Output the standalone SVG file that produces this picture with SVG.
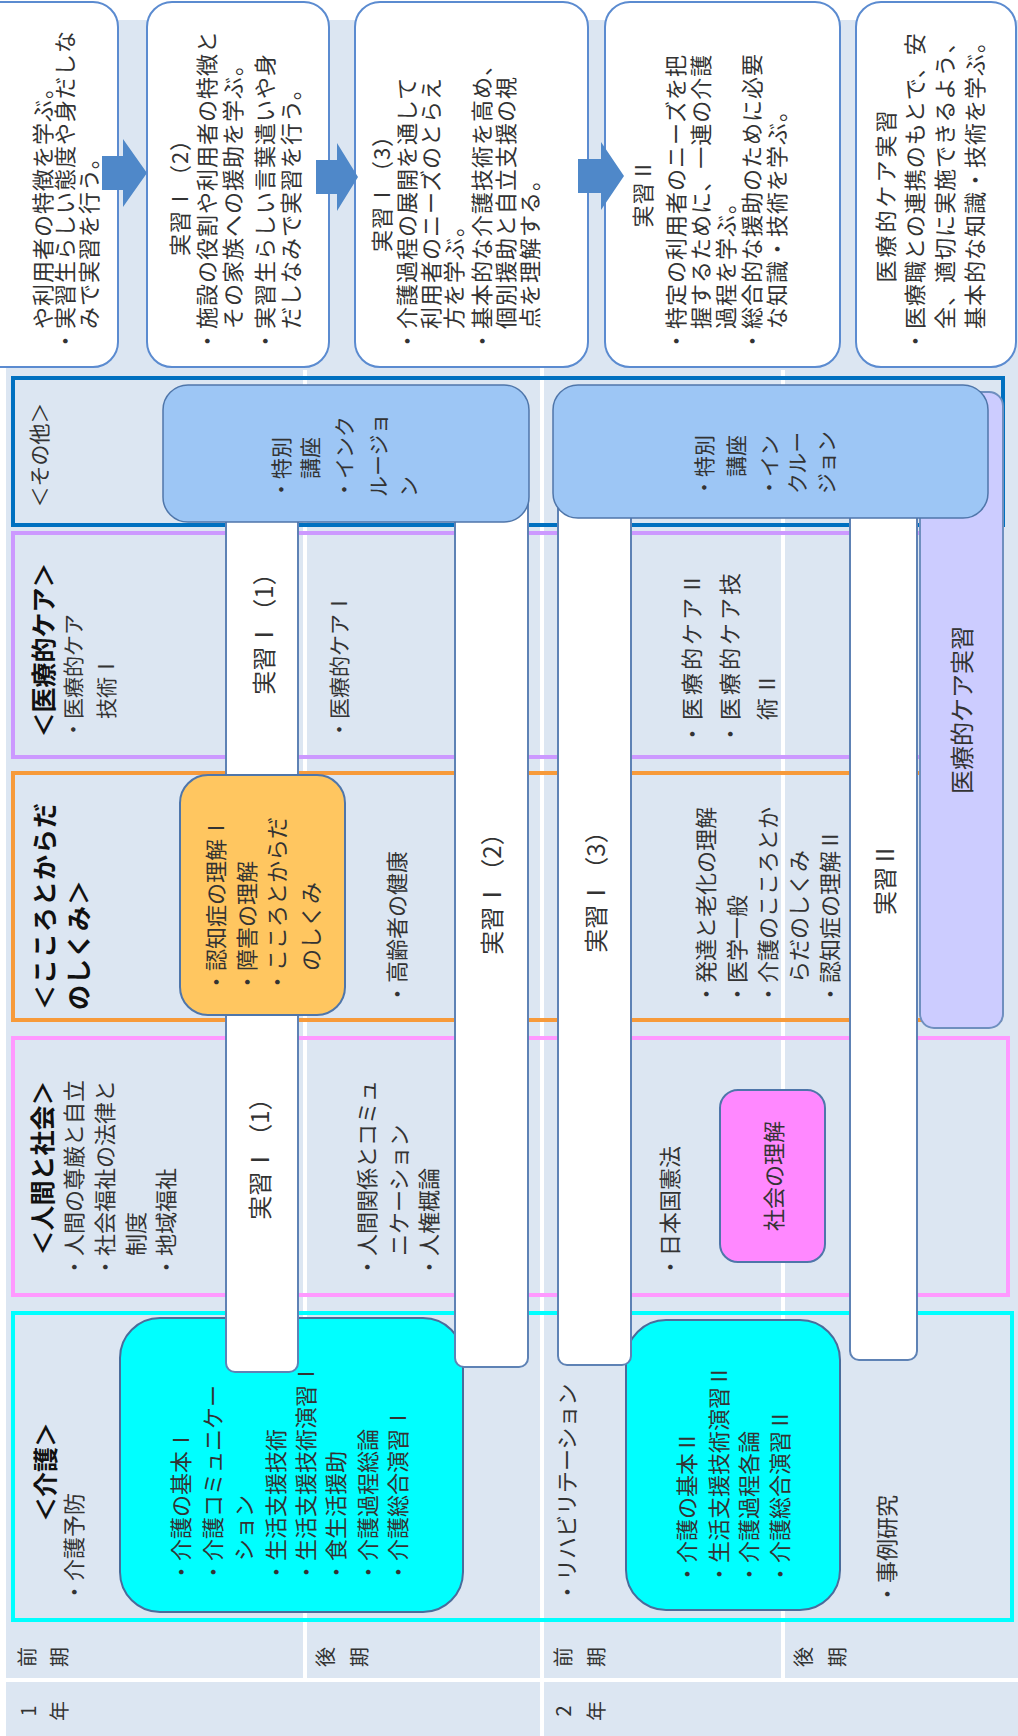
<svg xmlns="http://www.w3.org/2000/svg" width="1018" height="1736" viewBox="0 0 1018 1736">
<style>
.t{font-family:"Noto Sans CJK JP","Noto Sans CJK SC",sans-serif;fill:#333;dominant-baseline:central}
.m{text-anchor:middle}
.b{font-weight:bold;fill:#111}
.s20{font-size:20px}
.s21{font-size:21px}
.s22{font-size:22px}
.s24{font-size:24px}
.s25{font-size:25px}
.ls1{letter-spacing:1px}
.top{fill:#fff;stroke:#5B8BD0;stroke-width:2}
.bar{fill:#fff;stroke:#5E82B5;stroke-width:2}
.grid{stroke:#fff;stroke-width:4}
.arrow{fill:#4F88C9}
</style>
<rect x="6" y="20" width="1012" height="1716" fill="#DCE6F2"/>
<g id="grid">
<line class="grid" x1="305" y1="370" x2="305" y2="1680"/>
<line class="grid" x1="542" y1="20" x2="542" y2="1736"/>
<line class="grid" x1="783" y1="370" x2="783" y2="1680"/>
<line class="grid" x1="6" y1="1680" x2="1018" y2="1680"/>
</g>

<!-- top goal boxes -->
<g id="goal1">
<rect class="top" x="-30" y="2" width="148" height="365" rx="25"/>
<text class="t s22 ls1" transform="translate(41,329) rotate(-90)">や利用者の特徴を学ぶ。</text>
<text class="t s22 ls1" transform="translate(63,352) rotate(-90)">・実習生らしい態度や身だしな</text>
<text class="t s22 ls1" transform="translate(87,329) rotate(-90)">みで実習を行う。</text>
</g>
<g id="goal2">
<rect class="top" x="147" y="2" width="182" height="365" rx="25"/>
<text class="t s22 ls1 m" transform="translate(178,192) rotate(-90)">実習Ⅰ（2）</text>
<text class="t s22 ls1" transform="translate(205,352) rotate(-90)">・施設の役割や利用者の特徴と</text>
<text class="t s22 ls1" transform="translate(231,329) rotate(-90)">その家族への援助を学ぶ。</text>
<text class="t s22 ls1" transform="translate(263,352) rotate(-90)">・実習生らしい言葉遣いや身</text>
<text class="t s22 ls1" transform="translate(289,329) rotate(-90)">だしなみで実習を行う。</text>
</g>
<g id="goal3">
<rect class="top" x="355" y="2" width="233" height="365" rx="25"/>
<text class="t s22 ls1 m" transform="translate(380,188) rotate(-90)">実習Ⅰ（3）</text>
<text class="t s22 ls1" transform="translate(405,352) rotate(-90)">・介護過程の展開を通して</text>
<text class="t s22 ls1" transform="translate(429,329) rotate(-90)">利用者のニーズのとらえ</text>
<text class="t s22 ls1" transform="translate(452,329) rotate(-90)">方を学ぶ。</text>
<text class="t s22 ls1" transform="translate(480,352) rotate(-90)">・基本的な介護技術を高め、</text>
<text class="t s22 ls1" transform="translate(504,329) rotate(-90)">個別援助と自立支援の視</text>
<text class="t s22 ls1" transform="translate(528,329) rotate(-90)">点を理解する。</text>
</g>
<g id="goal4">
<rect class="top" x="605" y="2" width="235" height="365" rx="25"/>
<text class="t s22 ls1 m" transform="translate(641,193) rotate(-90)">実習Ⅱ</text>
<text class="t s22 ls1" transform="translate(674,352) rotate(-90)">・特定の利用者のニーズを把</text>
<text class="t s22 ls1" transform="translate(699,329) rotate(-90)">握するために、一連の介護</text>
<text class="t s22 ls1" transform="translate(724,329) rotate(-90)">過程を学ぶ。</text>
<text class="t s22 ls1" transform="translate(750,352) rotate(-90)">・総合的な援助のために必要</text>
<text class="t s22 ls1" transform="translate(775,329) rotate(-90)">な知識・技術を学ぶ。</text>
</g>
<g id="goal5">
<rect class="top" x="856" y="2" width="160" height="365" rx="25"/>
<text class="t s22 m" style="letter-spacing:3px" transform="translate(884,195) rotate(-90)">医療的ケア実習</text>
<text class="t s22 ls1" transform="translate(913,352) rotate(-90)">・医療職との連携のもとで、安</text>
<text class="t s22 ls1" transform="translate(943,329) rotate(-90)">全、適切に実施できるよう、</text>
<text class="t s22 ls1" transform="translate(973,329) rotate(-90)">基本的な知識・技術を学ぶ。</text>
</g>

<g id="connectors">
<polygon class="arrow" points="102,156 123,156 123,139 147,173 123,207 123,190 102,190"/>
<polygon class="arrow" points="316,160 337,160 337,143 358,177 337,211 337,194 316,194"/>
<polygon class="arrow" points="578,159 601,159 601,142 624,176 601,210 601,193 578,193"/>
</g>

<!-- category bands -->
<g id="cat-other">
<rect x="13" y="378" width="990" height="147" fill="none" stroke="#0070C0" stroke-width="4"/>
<text class="t s21 m" transform="translate(38,455) rotate(-90)">＜その他＞</text>
</g>
<g id="cat-medical">
<rect x="13" y="533" width="987" height="224" fill="none" stroke="#CC99FF" stroke-width="4"/>
<text class="t b s25 m" transform="translate(42,650) rotate(-90)">＜医療的ケア＞</text>
<text class="t s21" transform="translate(72,740) rotate(-90)">・医療的ケア</text>
<text class="t s21" transform="translate(105,719) rotate(-90)">技術Ⅰ</text>
<text class="t s21" transform="translate(338,740) rotate(-90)">・医療的ケアⅠ</text>
<text class="t s22" style="letter-spacing:3px" transform="translate(690,745) rotate(-90)">・医療的ケアⅡ</text>
<text class="t s22" style="letter-spacing:3px" transform="translate(728,745) rotate(-90)">・医療的ケア技</text>
<text class="t s22" style="letter-spacing:3px" transform="translate(765,720) rotate(-90)">術Ⅱ</text>
</g>
<g id="cat-mind">
<rect x="13" y="773" width="987" height="247" fill="none" stroke="#F79A3A" stroke-width="4"/>
<text class="t b s25" style="letter-spacing:1px" transform="translate(43,1010) rotate(-90)">＜こころとからだ</text>
<text class="t b s25" style="letter-spacing:1px" transform="translate(77,1010) rotate(-90)">のしくみ＞</text>
<text class="t s22" transform="translate(395,1005) rotate(-90)">・高齢者の健康</text>
<text class="t s22" transform="translate(704,1005) rotate(-90)">・発達と老化の理解</text>
<text class="t s22" transform="translate(735,1005) rotate(-90)">・医学一般</text>
<text class="t s22" transform="translate(766,1005) rotate(-90)">・介護のこころとか</text>
<text class="t s22" transform="translate(797,983) rotate(-90)">らだのしくみ</text>
<text class="t s22" transform="translate(828,1005) rotate(-90)">・認知症の理解Ⅱ</text>
</g>
<g id="cat-society">
<rect x="13" y="1038" width="995" height="257" fill="none" stroke="#FF99FF" stroke-width="4"/>
<text class="t b s25 m" transform="translate(41,1168) rotate(-90)">＜人間と社会＞</text>
<text class="t s22" transform="translate(72,1278) rotate(-90)">・人間の尊厳と自立</text>
<text class="t s22" transform="translate(103,1278) rotate(-90)">・社会福祉の法律と</text>
<text class="t s22" transform="translate(134,1256) rotate(-90)">制度</text>
<text class="t s22" transform="translate(164,1278) rotate(-90)">・地域福祉</text>
<text class="t s22" transform="translate(365,1278) rotate(-90)">・人間関係とコミュ</text>
<text class="t s22" transform="translate(397,1256) rotate(-90)">ニケーション</text>
<text class="t s22" transform="translate(427,1278) rotate(-90)">・人権概論</text>
<text class="t s22" transform="translate(668,1278) rotate(-90)">・日本国憲法</text>
</g>
<g id="cat-care">
<rect x="13" y="1313" width="999" height="307" fill="none" stroke="#00FFFF" stroke-width="4"/>
<text class="t b s25 m" transform="translate(44,1472) rotate(-90)">＜介護＞</text>
<text class="t s22" transform="translate(72,1603) rotate(-90)">・介護予防</text>
<text class="t s22" transform="translate(565,1603) rotate(-90)">・リハビリテーション</text>
<text class="t s22" transform="translate(885,1605) rotate(-90)">・事例研究</text>
</g>

<!-- content boxes below bars -->
<g id="care1">
<rect x="120" y="1318" width="343" height="294" rx="40" fill="#00FFFF" stroke="#4A6C9B" stroke-width="2"/>
<text class="t s22" transform="translate(179,1583) rotate(-90)">・介護の基本Ⅰ</text>
<text class="t s22" transform="translate(211,1583) rotate(-90)">・介護コミュニケー</text>
<text class="t s22" transform="translate(242,1561) rotate(-90)">ション</text>
<text class="t s22" transform="translate(274,1583) rotate(-90)">・生活支援技術</text>
<text class="t s22" transform="translate(304,1583) rotate(-90)">・生活支援技術演習Ⅰ</text>
<text class="t s22" transform="translate(334,1583) rotate(-90)">・食生活援助</text>
<text class="t s22" transform="translate(366,1583) rotate(-90)">・介護過程総論</text>
<text class="t s22" transform="translate(396,1583) rotate(-90)">・介護総合演習Ⅰ</text>
</g>
<g id="care2">
<rect x="626" y="1320" width="214" height="290" rx="40" fill="#00FFFF" stroke="#4A6C9B" stroke-width="2"/>
<text class="t s22" transform="translate(685,1585) rotate(-90)">・介護の基本Ⅱ</text>
<text class="t s22" transform="translate(717,1585) rotate(-90)">・生活支援技術演習Ⅱ</text>
<text class="t s22" transform="translate(747,1585) rotate(-90)">・介護過程各論</text>
<text class="t s22" transform="translate(778,1585) rotate(-90)">・介護総合演習Ⅱ</text>
</g>
<g id="society-box">
<rect x="720" y="1090" width="105" height="172" rx="18" fill="#FF88FF" stroke="#4F76AA" stroke-width="2"/>
<text class="t s22 m" transform="translate(772,1176) rotate(-90)">社会の理解</text>
</g>
<g id="medical-practice">
<rect x="920" y="392" width="83" height="636" rx="14" fill="#CCCCFF" stroke="#6F8FBF" stroke-width="2"/>
<text class="t s24 m" transform="translate(960,710) rotate(-90)">医療的ケア実習</text>
</g>

<!-- practicum bars -->
<g id="bar1">
<rect class="bar" x="226" y="490" width="72" height="882" rx="9"/>
<text class="t s24 m" transform="translate(262,628) rotate(-90)">実習Ⅰ（1）</text>
<text class="t s24 m" transform="translate(258,1153) rotate(-90)">実習Ⅰ（1）</text>
</g>
<g id="bar2">
<rect class="bar" x="455" y="490" width="73" height="877" rx="9"/>
<text class="t s24 m" transform="translate(490,888) rotate(-90)">実習Ⅰ（2）</text>
</g>
<g id="bar3">
<rect class="bar" x="558" y="490" width="73" height="875" rx="9"/>
<text class="t s24 m" transform="translate(594,886) rotate(-90)">実習Ⅰ（3）</text>
</g>
<g id="bar4">
<rect class="bar" x="850" y="490" width="67" height="870" rx="9"/>
<text class="t s24 m" transform="translate(883,879) rotate(-90)">実習Ⅱ</text>
</g>

<!-- boxes above bars -->
<g id="mind1">
<rect x="180" y="775" width="165" height="240" rx="28" fill="#FFC660" stroke="#4F76AA" stroke-width="2"/>
<text class="t s22" transform="translate(214,993) rotate(-90)">・認知症の理解Ⅰ</text>
<text class="t s22" transform="translate(245,993) rotate(-90)">・障害の理解</text>
<text class="t s22" transform="translate(275,993) rotate(-90)">・こころとからだ</text>
<text class="t s22" transform="translate(309,971) rotate(-90)">のしくみ</text>
</g>
<g id="other1">
<rect x="163" y="385" width="366" height="137" rx="25" fill="#9DC6F5" stroke="#4F76AA" stroke-width="1.5"/>
<text class="t s21" transform="translate(280,500) rotate(-90)">・特別</text>
<text class="t s21" transform="translate(309,479) rotate(-90)">講座</text>
<text class="t s21" transform="translate(343,500) rotate(-90)">・インク</text>
<text class="t s21" transform="translate(377,497) rotate(-90)">ルージョ</text>
<text class="t s21" transform="translate(407,497) rotate(-90)">ン</text>
</g>
<g id="other2">
<rect x="553" y="385" width="435" height="133" rx="25" fill="#9DC6F5" stroke="#4F76AA" stroke-width="1.5"/>
<text class="t s21" transform="translate(703,498) rotate(-90)">・特別</text>
<text class="t s21" transform="translate(735,477) rotate(-90)">講座</text>
<text class="t s21" transform="translate(768,498) rotate(-90)">・イン</text>
<text class="t s21" transform="translate(796,494) rotate(-90)">クルー</text>
<text class="t s21" transform="translate(825,494) rotate(-90)">ジョン</text>
</g>

<!-- period and year headers -->
<g id="periods">
<text class="t s20 m" transform="translate(26,1657) rotate(-90)">前</text>
<text class="t s20 m" transform="translate(58,1657) rotate(-90)">期</text>
<text class="t s20 m" transform="translate(324,1657) rotate(-90)">後</text>
<text class="t s20 m" transform="translate(358,1657) rotate(-90)">期</text>
<text class="t s20 m" transform="translate(562,1657) rotate(-90)">前</text>
<text class="t s20 m" transform="translate(595,1657) rotate(-90)">期</text>
<text class="t s20 m" transform="translate(802,1657) rotate(-90)">後</text>
<text class="t s20 m" transform="translate(836,1657) rotate(-90)">期</text>
</g>
<g id="years">
<text class="t s20 m" transform="translate(27,1711) rotate(-90)">1</text>
<text class="t s20 m" transform="translate(58,1711) rotate(-90)">年</text>
<text class="t s20 m" transform="translate(562,1711) rotate(-90)">2</text>
<text class="t s20 m" transform="translate(595,1711) rotate(-90)">年</text>
</g>
</svg>
